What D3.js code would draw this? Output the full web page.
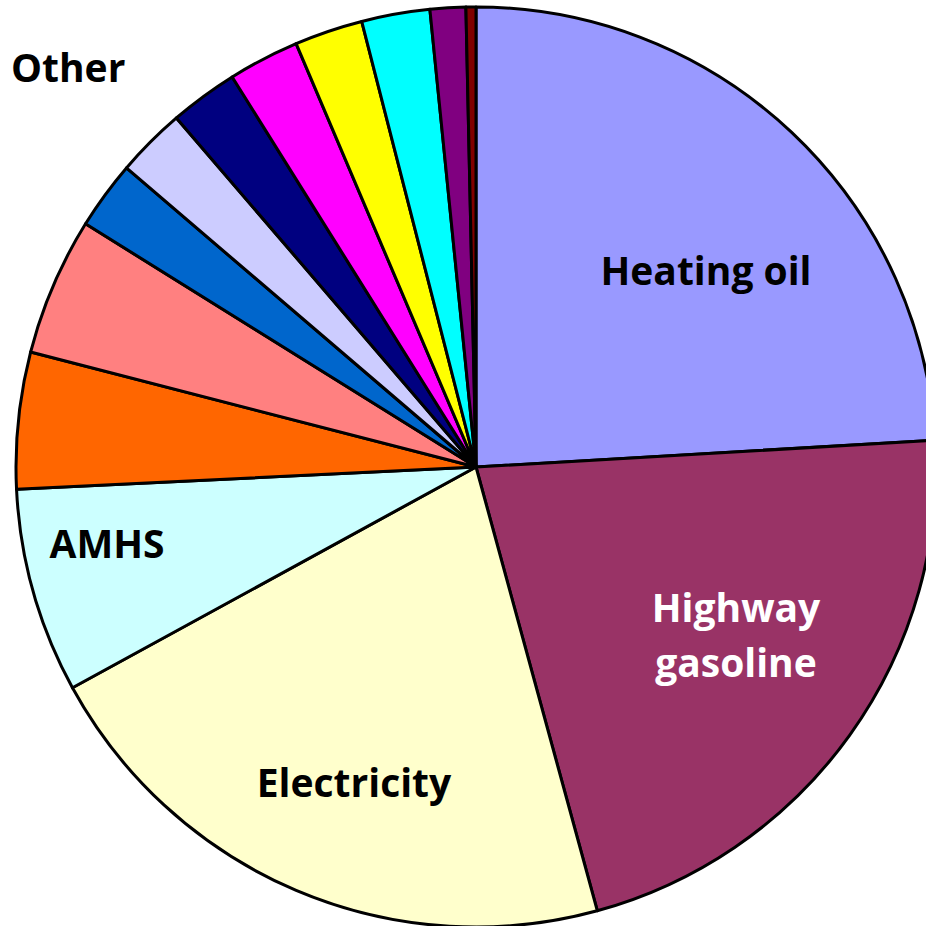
<!DOCTYPE html>
<html>
<head>
<meta charset="utf-8">
<script src="https://cdn.jsdelivr.net/npm/d3@7"></script>
<style>
  html, body { margin: 0; padding: 0; background: #fff; }
  svg { display: block; }
  text { font-family: "Open Sans", Lato, sans-serif; font-weight: bold; }
</style>
</head>
<body>
<svg id="chart" width="926" height="926"></svg>
<script>
// Data (percent shares, clockwise from 12 o'clock)
const categories = ["Heating oil", "Highway gasoline", "Electricity", "AMHS",
  "Other 1", "Other 2", "Other 3", "Other 4", "Other 5", "Other 6",
  "Other 7", "Other 8", "Other 9", "Other 10"];
const values = [24.1, 21.7, 21.3, 7.2, 4.8, 4.85, 2.4, 2.45, 2.4, 2.5, 2.4, 2.4, 1.25, 0.35];
const colors = ["#9999FF", "#993366", "#FFFFCC", "#CCFFFF", "#FF6600", "#FF8080",
  "#0066CC", "#CCCCFF", "#000080", "#FF00FF", "#FFFF00", "#00FFFF", "#800080", "#800000"];

// Labels (text lines, position, colour)
const labels = [
  { lines: ["Heating oil"], x: 706, y: 285, fill: "#000" },
  { lines: ["Highway", "gasoline"], x: 736, y: 622, fill: "#fff" },
  { lines: ["Electricity"], x: 354, y: 797, fill: "#000" },
  { lines: ["AMHS"], x: 107, y: 558, fill: "#000" },
];

const cx = 476, cy = 467, R = 460;
const svg = d3.select("#chart");
const g = svg.append("g").attr("transform", `translate(${cx},${cy})`);

const pie = d3.pie().sort(null).value(d => d.v);
const arcs = pie(values.map((v, i) => ({ v, name: categories[i], color: colors[i] })));
const arc = d3.arc().innerRadius(0).outerRadius(R);

g.selectAll("path.slice")
  .data(arcs)
  .join("path")
  .attr("class", "slice")
  .attr("d", arc)
  .attr("fill", d => d.data.color)
  .attr("stroke", "#000")
  .attr("stroke-width", 3)
  .attr("stroke-linejoin", "round");

const fs = 39;
labels.forEach(l => {
  const t = svg.append("text")
    .attr("x", l.x).attr("y", l.y)
    .attr("text-anchor", "middle")
    .attr("font-size", fs)
    .attr("fill", l.fill);
  l.lines.forEach((s, i) => {
    t.append("tspan").attr("x", l.x).attr("dy", i === 0 ? 0 : 55).text(s);
  });
});

svg.append("text")
  .attr("x", 11).attr("y", 82)
  .attr("font-size", fs)
  .attr("fill", "#000")
  .text("Other");
</script>
</body>
</html>
